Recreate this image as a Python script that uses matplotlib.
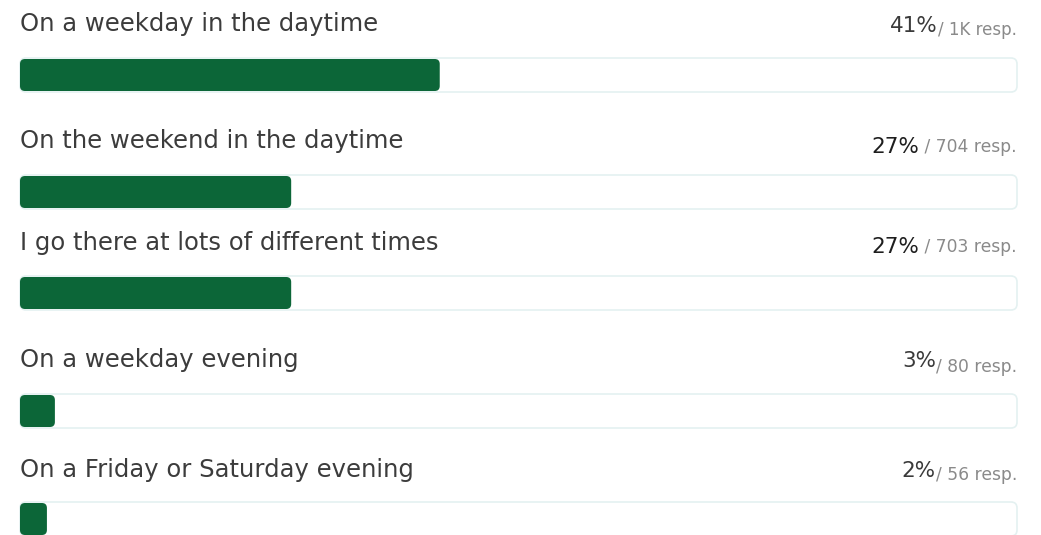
import matplotlib
matplotlib.use("Agg")
import matplotlib.pyplot as plt
from matplotlib.patches import FancyBboxPatch

labels = [
    "On a weekday in the daytime",
    "On the weekend in the daytime",
    "I go there at lots of different times",
    "On a weekday evening",
    "On a Friday or Saturday evening",
]
bar_values = [42.1, 27.2, 27.2, 3.5, 2.7]  # bar length, % of the track
pct_labels = ["41%", "27%", "27%", "3%", "2%"]
resp_labels = ["/ 1K resp.", " / 704 resp.", " / 703 resp.", "/ 80 resp.", "/ 56 resp."]

# layout (pixel rows, top-down)
W, H = 1041, 535
bar_y = [75, 192, 293, 411, 519]
label_base = [31, 148, 250, 367, 477]
pct_base = [32, 153, 253, 367, 477]
resp_base = [35, 152, 252, 372, 480]
resp_size = [12.0, 12.3, 12.3, 12.3, 12.3]
pct_color = ["#3a3a3a", "#1e1e1e", "#1e1e1e", "#3a3a3a", "#3a3a3a"]
BAR_H = 32
GREEN = "#0c6638"

plt.rcParams['font.family'] = ['DejaVu Sans']

fig = plt.figure(figsize=(W / 100, H / 100), dpi=100)
x0, x1 = 20, 1017
ax = fig.add_axes([x0 / W, 0, (x1 - x0) / W, 1])
ax.set_xlim(0, 100)
ax.set_ylim(H, 0)
ax.axis("off")

px_per_pct = (x1 - x0) / 100.0

# background tracks
for y in bar_y:
    track = FancyBboxPatch((0, y - BAR_H / 2 - 1), 100, BAR_H + 2,
                           boxstyle="round,pad=0,rounding_size=0.6",
                           mutation_aspect=px_per_pct,
                           facecolor="white", edgecolor="#e4f1f1", linewidth=1.2,
                           clip_on=False)
    ax.add_patch(track)

bars = ax.barh(bar_y, bar_values, height=BAR_H, color=GREEN)
for rect in bars:
    bx, by = rect.get_x(), rect.get_y()
    bw, bh = rect.get_width(), rect.get_height()
    rect.remove()
    ax.add_patch(FancyBboxPatch((bx, by), bw, bh,
                                boxstyle="round,pad=0,rounding_size=0.5",
                                mutation_aspect=px_per_pct,
                                facecolor=GREEN, edgecolor="none", clip_on=False))

for i, lab in enumerate(labels):
    ax.text(0, label_base[i], lab, fontsize=17.5, color="#3c3c3c",
            ha="left", va="baseline")
    rt = ax.text(100, resp_base[i], resp_labels[i], fontsize=resp_size[i],
                 color="#8a8a8a", ha="right", va="baseline")
    # percentage sits just left of the "/ n resp." text
    ax.annotate(pct_labels[i], xy=(0, pct_base[i]), xycoords=(rt, "data"),
                fontsize=15.5, color=pct_color[i], ha="right", va="baseline")

fig.savefig("out.png", dpi=100, facecolor="white")
